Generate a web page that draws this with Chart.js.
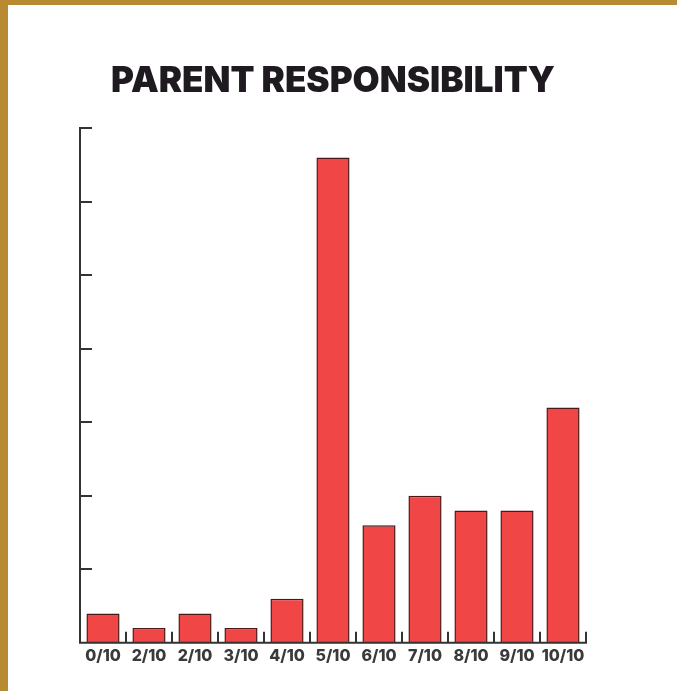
<!DOCTYPE html>
<html>
<head>
<meta charset="utf-8">
<script src="https://cdn.jsdelivr.net/npm/chart.js@4.4.1/dist/chart.umd.min.js"></script>
<style>
  html, body { margin: 0; padding: 0; background: #fff; }
  body { width: 677px; height: 691px; position: relative; overflow: hidden; }
  .frame { position: absolute; left: 0; top: 0; width: 677px; height: 691px;
           border-top: 5px solid #B88B33; border-left: 8px solid #B88B33; box-sizing: border-box; }
  .wrap { position: absolute; left: 8px; top: 5px; width: 669px; height: 686px; }
</style>
</head>
<body>
<div class="frame"></div>
<div class="wrap"><canvas id="chart"></canvas></div>
<script>
// data (counts, axis step of 5)
const categories = ['0/10', '2/10', '2/10', '3/10', '4/10', '5/10', '6/10', '7/10', '8/10', '9/10', '10/10'];
const counts = [2, 1, 2, 1, 3, 33, 8, 10, 9, 9, 16];
const yMax = 35;
const yStep = 5;

// draws the axis lines with inward tick marks, like the original
const axisPlugin = {
    id: 'inwardAxes',
    afterDatasetsDraw(chart) {
        const ctx = chart.ctx;
        const x = chart.scales.x;
        const y = chart.scales.y;
        const left = chart.chartArea.left;
        const bottom = y.getPixelForValue(0);
        ctx.save();
        ctx.strokeStyle = '#333';
        ctx.lineWidth = 2;
        ctx.beginPath();
        // y axis + ticks
        ctx.moveTo(left, y.getPixelForValue(yMax));
        ctx.lineTo(left, bottom);
        for (let v = yStep; v <= yMax; v += yStep) {
            const py = Math.round(y.getPixelForValue(v));
            ctx.moveTo(left - 1, py);
            ctx.lineTo(left + 12, py);
        }
        // x axis + ticks between categories
        const right = x.getPixelForValue(categories.length - 0.5);
        ctx.moveTo(left - 1, bottom);
        ctx.lineTo(right + 1, bottom);
        for (let i = 0; i < categories.length; i++) {
            const px = Math.round(x.getPixelForValue(i + 0.5));
            ctx.moveTo(px, bottom);
            ctx.lineTo(px, bottom - 11);
        }
        ctx.stroke();
        ctx.restore();
    }
};

const ctx = document.getElementById('chart').getContext('2d');
new Chart(ctx, {
    type: 'bar',
    data: {
        labels: categories,
        datasets: [{
            label: 'Parent responsibility',
            data: counts,
            backgroundColor: '#F04646',
            borderColor: '#4a1818',
            borderWidth: 1.5,
            barPercentage: 0.72,
            categoryPercentage: 1.0
        }]
    },
    options: {
        responsive: true,
        maintainAspectRatio: false,
        animation: false,
        layout: {
            padding: { left: 72, right: 91, top: 0, bottom: 21 }
        },
        plugins: {
            legend: { display: false },
            tooltip: { enabled: false },
            title: {
                display: true,
                text: 'PARENT RESPONSIBILITY',
                color: '#1e1a1f',
                font: { family: 'Inter', size: 35, weight: '900' },
                padding: { top: 55, bottom: 26 }
            }
        },
        scales: {
            x: {
                grid: { display: false, drawTicks: false },
                border: { display: false },
                ticks: {
                    autoSkip: false,
                    maxRotation: 0,
                    padding: 4,
                    color: '#3a3a3a',
                    font: { family: 'Inter', size: 16, weight: '800' }
                }
            },
            y: {
                min: 0,
                max: yMax,
                ticks: { display: false, stepSize: yStep },
                grid: { display: false, drawTicks: false },
                border: { display: false }
            }
        }
    },
    plugins: [axisPlugin]
});
</script>
</body>
</html>
